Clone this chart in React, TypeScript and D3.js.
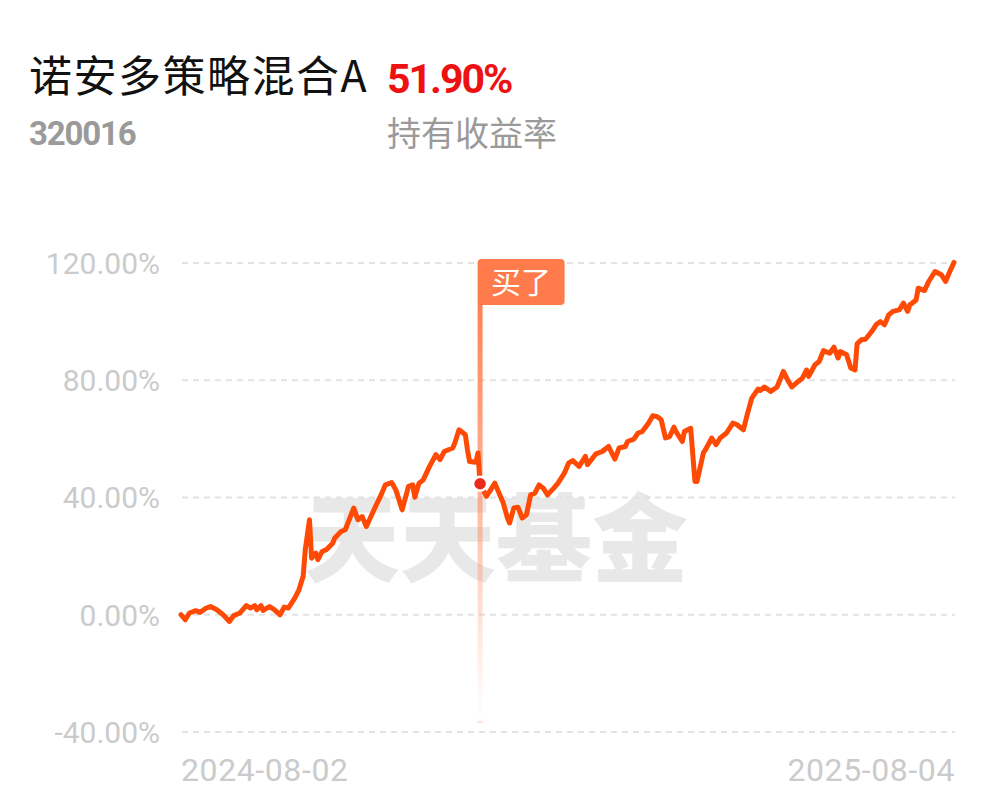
import * as d3 from 'd3'

const fundName = '诺安多策略混合A'
const fundCode = '320016'
const holdingReturn = '51.90%'
const holdingLabel = '持有收益率'
const buyLabel = '买了'
const watermark = '天天基金'

const startDate = '2024-08-02'
const endDate = '2025-08-04'
const yTicks = [120, 80, 40, 0, -40]

// days since 2024-08-02, cumulative return in %
const dayOffsets = [
  0, 2, 4, 7, 9, 12, 14, 17, 20, 23, 25, 28, 31, 33, 35, 36, 38, 39, 42, 44,
  47, 49, 51, 54, 56, 58, 59, 61, 62, 64, 65, 67, 69, 72, 73, 76, 78, 82, 84, 86,
  88, 92, 95, 97, 100, 102, 105, 108, 110, 111, 113, 115, 118, 121, 123, 125, 129, 130, 132, 135,
  136, 137, 140, 141, 142, 145, 147, 149, 151, 153, 155, 156, 158, 160, 162, 164, 166, 168, 170, 172,
  174, 177, 179, 182, 184, 186, 189, 192, 193, 197, 200, 201, 203, 206, 208, 211, 212, 215, 217, 219,
  222, 224, 226, 228, 230, 232, 234, 235, 238, 239, 242, 244, 245, 248, 249, 252, 254, 256, 259, 262,
  264, 267, 269, 271, 274, 275, 277, 280, 283, 286, 288, 290, 293, 295, 297, 298, 301, 303, 305, 308,
  310, 312, 313, 316, 318, 320, 321, 323, 325, 328, 330, 332, 334, 336, 338, 341, 343, 345, 346, 349,
  350, 353, 355, 358, 361, 363, 365, 367,
]
const returns = [
  0.0, -1.7, 0.6, 1.4, 0.8, 2.3, 2.8, 1.7, 0.0, -2.3, -0.3, 0.6, 3.1, 2.3, 3.1, 1.7, 3.1, 1.5, 2.8, 1.9,
  0.0, 2.6, 2.3, 5.7, 8.5, 13.1, 22.2, 32.4, 19.3, 21.0, 18.8, 21.6, 22.2, 24.4, 26.2, 28.4, 29.0, 36.4, 32.4, 33.5,
  30.1, 36.4, 40.9, 44.3, 45.1, 42.6, 35.8, 43.8, 44.3, 40.1, 44.9, 46.0, 50.6, 54.6, 52.9, 55.7, 56.9, 58.6, 63.1, 61.4,
  56.3, 52.3, 52.0, 55.2, 44.7, 40.4, 42.6, 44.9, 41.5, 38.1, 33.0, 31.3, 36.4, 36.7, 33.0, 34.1, 40.9, 41.5, 44.3, 43.2,
  40.9, 43.2, 44.9, 48.3, 51.7, 52.6, 50.6, 54.0, 51.2, 54.9, 55.7, 56.3, 57.4, 53.1, 56.9, 57.4, 59.1, 59.9, 62.0, 62.5,
  65.4, 67.9, 67.6, 66.5, 60.3, 60.8, 64.0, 62.5, 59.1, 62.5, 63.6, 45.5, 45.5, 55.2, 56.3, 60.3, 58.0, 60.3, 62.0, 65.4,
  64.8, 63.1, 68.8, 73.9, 77.0, 76.5, 77.7, 76.2, 77.7, 83.0, 80.1, 77.7, 79.6, 80.7, 83.5, 81.3, 85.3, 86.4, 90.1, 89.2,
  91.3, 87.6, 89.8, 88.7, 84.2, 83.5, 92.4, 93.8, 94.0, 96.7, 98.9, 100.0, 98.9, 102.3, 103.5, 104.0, 106.3, 103.5, 105.7, 107.4,
  111.4, 110.6, 113.7, 117.1, 116.0, 113.7, 117.1, 120.2,
]
const buyDay = 142

const W = 997
const H = 802

export default function App() {
  const parse = d3.timeParse('%Y-%m-%d')
  const t0 = parse(startDate) as Date
  const t1 = parse(endDate) as Date

  const x = d3.scaleTime().domain([t0, t1]).range([181, 954])
  const y = d3.scaleLinear().domain([-40, 120]).range([732, 263])

  const points = dayOffsets.map((d, i) => ({ date: d3.timeDay.offset(t0, d), v: returns[i] }))
  const line = d3
    .line<{ date: Date; v: number }>()
    .x((d) => x(d.date))
    .y((d) => y(d.v))
    .curve(d3.curveLinear)

  const buyIdx = dayOffsets.indexOf(buyDay)
  const bx = x(d3.timeDay.offset(t0, buyDay))
  const by = y(returns[buyIdx])

  const flagTop = 259
  const flagH = 46
  const flagW = 87
  const gridX0 = 182
  const gridX1 = 955

  return (
    <svg width={W} height={H} style={{ position: 'absolute', left: 0, top: 0, background: '#fff' }}>
      <defs>
        <linearGradient id="pole" x1="0" y1="0" x2="0" y2="1">
          <stop offset="0%" stopColor="#ff7a4a" stopOpacity={0.95} />
          <stop offset="45%" stopColor="#ff8a5c" stopOpacity={0.65} />
          <stop offset="100%" stopColor="#ffb090" stopOpacity={0} />
        </linearGradient>
      </defs>

      {/* header */}
      <text
        x={29}
        y={92}
        fontFamily="'Noto Sans CJK SC', sans-serif"
        fontSize={43}
        letterSpacing={1.5}
        fill="#111"
      >
        {fundName}
      </text>
      <text
        x={387}
        y={93}
        fontFamily="Roboto, sans-serif"
        fontWeight={700}
        fontSize={41}
        letterSpacing={-2}
        fill="#ee1111"
      >
        {holdingReturn}
      </text>
      <text
        x={29}
        y={145}
        fontFamily="Roboto, sans-serif"
        fontWeight={700}
        fontSize={33}
        letterSpacing={-1.2}
        fill="#9a9a9a"
      >
        {fundCode}
      </text>
      <text x={387} y={146} fontFamily="'Noto Sans CJK SC', sans-serif" fontSize={34} fill="#9a9a9a">
        {holdingLabel}
      </text>

      {/* watermark */}
      <text
        x={496}
        y={574}
        textAnchor="middle"
        fontFamily="'Noto Sans CJK SC', sans-serif"
        fontWeight={900}
        fontSize={96}
        fill="#e8e8e8"
      >
        {watermark}
      </text>

      {/* grid + y labels */}
      {yTicks.map((t) => (
        <g key={t}>
          <line
            x1={gridX0}
            x2={gridX1}
            y1={y(t)}
            y2={y(t)}
            stroke="#e2e2e2"
            strokeWidth={2}
            strokeDasharray="6 5"
          />
          <text
            x={160}
            y={y(t)}
            dy="0.36em"
            textAnchor="end"
            fontFamily="Roboto, sans-serif"
            fontSize={30}
            fill="#cbcbcb"
          >
            {`${t.toFixed(2)}%`}
          </text>
        </g>
      ))}

      {/* x labels */}
      <text x={181} y={781} fontFamily="Roboto, sans-serif" fontSize={32} letterSpacing={0.6} fill="#cbcbcb">
        {startDate}
      </text>
      <text
        x={955}
        y={781}
        textAnchor="end"
        fontFamily="Roboto, sans-serif"
        fontSize={32}
        letterSpacing={0.6}
        fill="#cbcbcb"
      >
        {endDate}
      </text>

      {/* buy marker pole */}
      <rect x={bx - 2.5} y={flagTop + flagH} width={5} height={722 - flagTop - flagH} fill="url(#pole)" />
      <rect x={bx - 3} y={721} width={6} height={2} fill="#ffe3d8" />

      {/* series */}
      <path
        d={line(points) ?? ''}
        fill="none"
        stroke="#ff4a05"
        strokeWidth={5}
        strokeLinejoin="round"
        strokeLinecap="round"
      />

      {/* buy flag */}
      <path
        d={`M${bx - 2.5},${flagTop + flagH} V${flagTop + 4} Q${bx - 2.5},${flagTop} ${bx + 1.5},${flagTop} H${
          bx - 2.5 + flagW - 4
        } Q${bx - 2.5 + flagW},${flagTop} ${bx - 2.5 + flagW},${flagTop + 4} V${flagTop + flagH - 4} Q${
          bx - 2.5 + flagW
        },${flagTop + flagH} ${bx - 2.5 + flagW - 4},${flagTop + flagH} Z`}
        fill="#ff7b4c"
      />
      <text
        x={bx - 2.5 + flagW / 2}
        y={flagTop + flagH / 2}
        dy="0.36em"
        textAnchor="middle"
        fontFamily="'Noto Sans CJK SC', sans-serif"
        fontSize={30}
        fill="#fff"
      >
        {buyLabel}
      </text>
      <circle cx={bx} cy={by} r={7} fill="#ea2a1c" stroke="#fff" strokeWidth={2.5} />
    </svg>
  )
}
